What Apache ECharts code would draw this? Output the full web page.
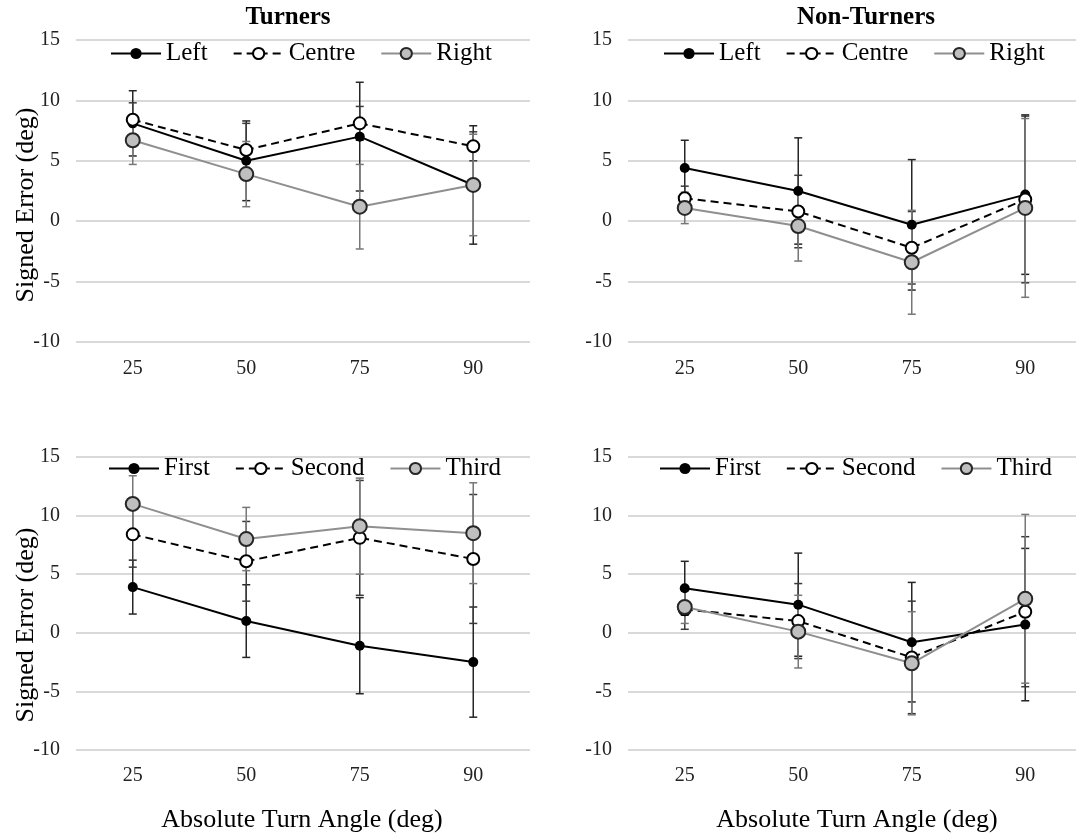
<!DOCTYPE html>
<html>
<head>
<meta charset="utf-8">
<script src="https://cdn.jsdelivr.net/npm/echarts@6/dist/echarts.min.js"></script>
<style>
  html, body { margin: 0; padding: 0; background: #fff; }
  #chart { width: 1076px; height: 839px; }
</style>
</head>
<body>
<div id="chart"></div>
<script>
// x categories and y range
const angles = ['25', '50', '75', '90'];
const yMin = -10, yMax = 15, yStep = 5;

const sideNames = ['Left', 'Centre', 'Right'];
const orderNames = ['First', 'Second', 'Third'];

// Turners, by side (means and +/- error)
const turnLeft = [8.1, 5.0, 7.0, 3.0];
const turnCentre = [8.4, 5.9, 8.1, 6.2];
const turnRight = [6.7, 3.9, 1.2, 3.0];
const turnLeftErr = [2.7, 3.3, 4.5, 4.9];
const turnCentreErr = [1.4, 2.2, 1.4, 1.2];
const turnRightErr = [2.0, 2.7, 3.5, 4.2];

// Non-turners, by side
const nonLeft = [4.4, 2.5, -0.3, 2.2];
const nonCentre = [1.9, 0.8, -2.2, 1.8];
const nonRight = [1.1, -0.4, -3.4, 1.1];
const nonLeftErr = [2.3, 4.4, 5.4, 6.6];
const nonCentreErr = [1.0, 3.0, 3.0, 6.9];
const nonRightErr = [1.3, 2.9, 4.3, 7.4];

// Turners, by order
const turnFirst = [3.9, 1.0, -1.1, -2.5];
const turnSecond = [8.4, 6.1, 8.1, 6.3];
const turnThird = [11.0, 8.0, 9.1, 8.5];
const turnFirstErr = [2.3, 3.1, 4.1, 4.7];
const turnSecondErr = [2.8, 3.4, 4.9, 5.5];
const turnThirdErr = [2.4, 2.7, 4.1, 4.3];

// Non-turners, by order
const nonFirst = [3.8, 2.4, -0.8, 0.7];
const nonSecond = [2.0, 1.0, -2.1, 1.8];
const nonThird = [2.2, 0.1, -2.6, 2.9];
const nonFirstErr = [2.3, 4.4, 5.1, 6.5];
const nonSecondErr = [1.7, 3.2, 4.8, 6.4];
const nonThirdErr = [1.4, 3.1, 4.4, 7.2];

const panels = [
  { names: sideNames, means: [turnLeft, turnCentre, turnRight], errs: [turnLeftErr, turnCentreErr, turnRightErr] },
  { names: sideNames, means: [nonLeft, nonCentre, nonRight], errs: [nonLeftErr, nonCentreErr, nonRightErr] },
  { names: orderNames, means: [turnFirst, turnSecond, turnThird], errs: [turnFirstErr, turnSecondErr, turnThirdErr] },
  { names: orderNames, means: [nonFirst, nonSecond, nonThird], errs: [nonFirstErr, nonSecondErr, nonThirdErr] }
];

const serif = '"Liberation Serif", "Times New Roman", serif';

const grids = [
  { left: 76, top: 40, width: 454, height: 302 },
  { left: 628, top: 40, width: 454, height: 302 },
  { left: 76, top: 457, width: 454, height: 293 },
  { left: 628, top: 457, width: 454, height: 293 }
];
const legendPos = [[110, 41], [663, 41], [108, 456], [659, 456]];

// look of the 3 series in every panel
const looks = [
  { line: { color: '#000', width: 2, type: 'solid' }, size: 10,
    item: { color: '#000', borderColor: '#000', borderWidth: 0 }, bar: '#262626' },
  { line: { color: '#000', width: 2, type: [8, 5] }, size: 12,
    item: { color: '#fff', borderColor: '#000', borderWidth: 2 }, bar: '#3a3a3a' },
  { line: { color: '#8f8f8f', width: 2, type: 'solid' }, size: 14,
    item: { color: '#bfbfbf', borderColor: '#262626', borderWidth: 2 }, bar: '#777' }
];

function errorBars(color) {
  return function (params, api) {
    const x = api.value(0);
    const top = api.coord([x, api.value(2)]);
    const bot = api.coord([x, api.value(1)]);
    const w = 4;
    const style = { stroke: color, lineWidth: 1.5 };
    return {
      type: 'group',
      children: [
        { type: 'line', shape: { x1: top[0], y1: top[1], x2: bot[0], y2: bot[1] }, style: style },
        { type: 'line', shape: { x1: top[0] - w, y1: top[1], x2: top[0] + w, y2: top[1] }, style: style },
        { type: 'line', shape: { x1: bot[0] - w, y1: bot[1], x2: bot[0] + w, y2: bot[1] }, style: style }
      ]
    };
  };
}

const series = [];
panels.forEach((p, pi) => {
  p.means.forEach((vals, si) => {
    const lk = looks[si];
    series.push({
      name: p.names[si] + ' err',
      type: 'custom',
      xAxisIndex: pi, yAxisIndex: pi,
      renderItem: errorBars(lk.bar),
      encode: { x: 0, y: [1, 2] },
      data: vals.map((v, i) => [i, +(v - p.errs[si][i]).toFixed(2), +(v + p.errs[si][i]).toFixed(2)]),
      z: 1,
      silent: true
    });
  });
  p.means.forEach((vals, si) => {
    const lk = looks[si];
    series.push({
      name: p.names[si],
      type: 'line',
      xAxisIndex: pi, yAxisIndex: pi,
      symbol: 'circle',
      symbolSize: lk.size,
      lineStyle: lk.line,
      itemStyle: lk.item,
      emphasis: { disabled: true },
      z: 3 + si,
      data: vals
    });
  });
});

const chart = echarts.init(document.getElementById('chart'));
chart.setOption({
  animation: false,
  backgroundColor: '#fff',
  grid: grids.map(g => Object.assign({ outerBoundsMode: 'none', containLabel: false }, g)),
  xAxis: grids.map((g, i) => ({
    type: 'category',
    gridIndex: i,
    data: angles,
    boundaryGap: true,
    axisLine: { show: false },
    axisTick: { show: false },
    splitLine: { show: false },
    axisLabel: { fontFamily: serif, fontSize: 20, color: '#222', margin: i < 2 ? 17 : 16 }
  })),
  yAxis: grids.map((g, i) => ({
    type: 'value',
    gridIndex: i,
    min: yMin, max: yMax, interval: yStep,
    axisLine: { show: false },
    axisTick: { show: false },
    splitLine: { show: true, lineStyle: { color: '#d9d9d9', width: 2 } },
    axisLabel: { fontFamily: serif, fontSize: 20, color: '#222', margin: 16 }
  })),
  legend: panels.map((p, i) => ({
    data: p.names,
    left: legendPos[i][0],
    top: legendPos[i][1],
    orient: 'horizontal',
    padding: 0,
    itemGap: 25,
    itemWidth: 50,
    itemHeight: 14,
    selectedMode: false,
    textStyle: { fontFamily: serif, fontSize: 25, color: '#000' }
  })),
  graphic: [
    { type: 'text', x: 288, y: 18, style: { text: 'Turners', font: 'bold 25px ' + serif, fill: '#000', align: 'center', verticalAlign: 'middle' } },
    { type: 'text', x: 866, y: 18, style: { text: 'Non-Turners', font: 'bold 25px ' + serif, fill: '#000', align: 'center', verticalAlign: 'middle' } },
    { type: 'text', x: 26, y: 205, rotation: Math.PI / 2, style: { text: 'Signed Error (deg)', font: '26px ' + serif, fill: '#000', align: 'center', verticalAlign: 'middle' } },
    { type: 'text', x: 26, y: 625, rotation: Math.PI / 2, style: { text: 'Signed Error (deg)', font: '26px ' + serif, fill: '#000', align: 'center', verticalAlign: 'middle' } },
    { type: 'text', x: 302, y: 820, style: { text: 'Absolute Turn Angle (deg)', font: '26px ' + serif, fill: '#000', align: 'center', verticalAlign: 'middle' } },
    { type: 'text', x: 857, y: 820, style: { text: 'Absolute Turn Angle (deg)', font: '26px ' + serif, fill: '#000', align: 'center', verticalAlign: 'middle' } }
  ],
  series: series
});
</script>
</body>
</html>
